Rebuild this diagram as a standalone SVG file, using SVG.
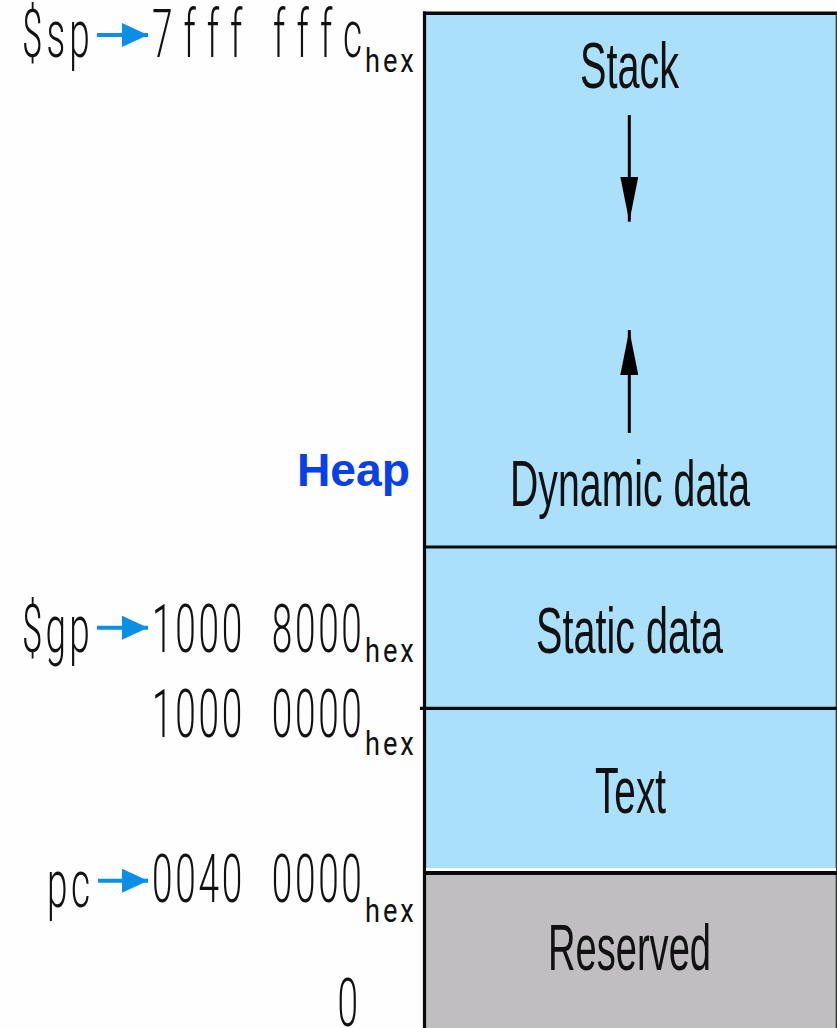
<svg xmlns="http://www.w3.org/2000/svg" width="837" height="1028" viewBox="0 0 837 1028">
  <style>
    .seg-blue { fill: #abe0fa; }
    .seg-grey { fill: #c1bec2; }
    .rule { stroke: #0a0a0a; stroke-width: 3.2; fill: none; }
    .label { font-family: "Liberation Sans", Arial, sans-serif; font-size: 65px; fill: #111; }
    .addr { font-family: Roboto, "Liberation Sans", sans-serif; font-weight: 300; font-size: 66px; fill: #111; }
    .sub { font-family: Roboto, "Liberation Sans", sans-serif; font-weight: 400; font-size: 34px; fill: #111; }
    .heap { font-family: "Liberation Sans", Arial, sans-serif; font-weight: bold; font-size: 46px; fill: #0a40e8; }
    .ptr { stroke: #0a8ee6; stroke-width: 4; fill: none; }
    .grow { stroke: #000; stroke-width: 3; fill: none; }
  </style>
  <defs>
    <marker id="ptr-head" markerUnits="userSpaceOnUse" markerWidth="26" markerHeight="24" refX="26" refY="12" orient="auto">
      <path d="M0,0 L26,12 L0,24 Z" fill="#0a8ee6"/>
    </marker>
    <marker id="grow-head" markerUnits="userSpaceOnUse" markerWidth="45" markerHeight="18" refX="45" refY="9" orient="auto">
      <path d="M0,0 L45,9 L0,18 Z" fill="#000"/>
    </marker>
  </defs>

  <rect width="837" height="1028" fill="#fdfefd"/>

  <!-- memory segments, top (high addresses) to bottom -->
  <g id="seg-stack">
    <rect class="seg-blue" x="424" y="13" width="412" height="534"/>
    <text class="label" x="580" y="88" textLength="99" lengthAdjust="spacingAndGlyphs">Stack</text>
  </g>
  <g id="seg-dynamic">
    <text class="label" x="510" y="506" textLength="240" lengthAdjust="spacingAndGlyphs">Dynamic data</text>
  </g>
  <g id="seg-static">
    <rect class="seg-blue" x="424" y="547" width="412" height="161"/>
    <text class="label" x="536" y="653" textLength="187" lengthAdjust="spacingAndGlyphs">Static data</text>
  </g>
  <g id="seg-text">
    <rect class="seg-blue" x="424" y="708" width="412" height="160"/>
    <text class="label" x="595" y="813" textLength="71" lengthAdjust="spacingAndGlyphs">Text</text>
  </g>
  <g id="seg-reserved">
    <rect class="seg-grey" x="424" y="873" width="413" height="155"/>
    <text class="label" x="548" y="970" textLength="163" lengthAdjust="spacingAndGlyphs">Reserved</text>
  </g>

  <!-- outline and segment boundaries -->
  <g id="frame">
    <line class="rule" x1="424.5" y1="11.5" x2="424.5" y2="1028"/>
    <line class="rule" x1="423" y1="13.2" x2="837" y2="13.2" style="stroke-width:3.6"/>
    <line x1="836.3" y1="13" x2="836.3" y2="1028" stroke="#222" stroke-width="1.2"/>
    <line class="rule" x1="423" y1="547" x2="837" y2="547"/>
    <line class="rule" x1="420" y1="708.3" x2="837" y2="708.3"/>
    <rect x="426" y="868" width="410" height="3" fill="#ffffff"/>
    <line class="rule" x1="423" y1="873" x2="837" y2="873" style="stroke-width:3.8"/>
  </g>

  <g id="heap-label">
    <text class="heap" x="297" y="486" textLength="113" lengthAdjust="spacingAndGlyphs">Heap</text>
  </g>

  <!-- address labels: narrow, tracked-out lettering (horizontal scale 0.56) -->
  <g id="addr-sp">
    <text class="addr" transform="translate(22,56.7) scale(0.56,1)" textLength="121" lengthAdjust="spacing">$sp</text>
    <text class="addr" transform="translate(152,56.7) scale(0.56,1)" textLength="161" lengthAdjust="spacing">7fff</text>
    <text class="addr" transform="translate(273,56.7) scale(0.56,1)" textLength="159" lengthAdjust="spacing">fffc</text>
    <text class="sub" transform="translate(365,71.7) scale(0.8,1)" textLength="61" lengthAdjust="spacing">hex</text>
  </g>
  <g id="addr-gp">
    <text class="addr" transform="translate(22,651.7) scale(0.56,1)" textLength="121" lengthAdjust="spacing">$gp</text>
    <text class="addr" transform="translate(152,651.7) scale(0.56,1)" textLength="161" lengthAdjust="spacing">1000</text>
    <text class="addr" transform="translate(271.7,651.7) scale(0.56,1)" textLength="161" lengthAdjust="spacing">8000</text>
    <text class="sub" transform="translate(365,661.7) scale(0.8,1)" textLength="61" lengthAdjust="spacing">hex</text>
  </g>
  <g id="addr-data-base">
    <text class="addr" transform="translate(152,736.7) scale(0.56,1)" textLength="161" lengthAdjust="spacing">1000</text>
    <text class="addr" transform="translate(271.7,736.7) scale(0.56,1)" textLength="161" lengthAdjust="spacing">0000</text>
    <text class="sub" transform="translate(365,755) scale(0.8,1)" textLength="61" lengthAdjust="spacing">hex</text>
  </g>
  <g id="addr-pc">
    <text class="addr" transform="translate(47,906.7) scale(0.56,1)" textLength="77" lengthAdjust="spacing">pc</text>
    <text class="addr" transform="translate(152,901.7) scale(0.56,1)" textLength="161" lengthAdjust="spacing">0040</text>
    <text class="addr" transform="translate(271.7,901.7) scale(0.56,1)" textLength="161" lengthAdjust="spacing">0000</text>
    <text class="sub" transform="translate(365,921.7) scale(0.8,1)" textLength="61" lengthAdjust="spacing">hex</text>
  </g>
  <g id="addr-zero">
    <text class="addr" transform="translate(337.5,1026) scale(0.56,1)">0</text>
  </g>

  <!-- connectors: register pointers and growth directions -->
  <g id="connectors">
    <line class="ptr" x1="97" y1="35" x2="148" y2="35" marker-end="url(#ptr-head)"/>
    <line class="ptr" x1="97" y1="627.7" x2="148" y2="627.7" marker-end="url(#ptr-head)"/>
    <line class="ptr" x1="98" y1="880.7" x2="148" y2="880.7" marker-end="url(#ptr-head)"/>
    <line class="grow" x1="629.3" y1="115" x2="629.3" y2="221.7" marker-end="url(#grow-head)"/>
    <line class="grow" x1="629.3" y1="433" x2="629.3" y2="330" marker-end="url(#grow-head)"/>
  </g>
</svg>
